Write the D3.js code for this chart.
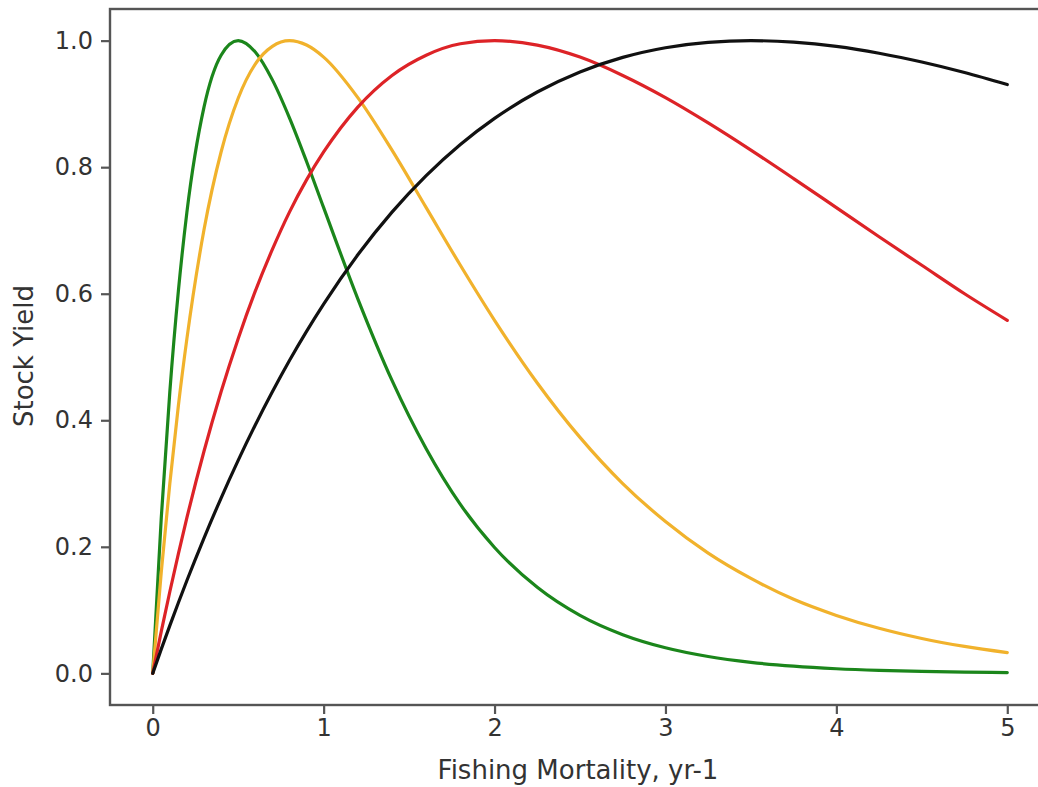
<!DOCTYPE html>
<html><head><meta charset="utf-8">
<script src="https://cdn.jsdelivr.net/npm/d3@7"></script>
<style>body{margin:0;background:#fff}svg{display:block}text{font-family:"DejaVu Sans",sans-serif;fill:#333}</style>
</head><body><svg id="c" width="1038" height="787"></svg>
<script>
const F = [0,0.05,0.1,0.15,0.2,0.3,0.4,0.5,0.6,0.7,0.8,0.9,1.0,1.2,1.4,1.6,1.8,2.0,2.25,2.5,2.75,3.0,3.25,3.5,3.75,4.0,4.25,4.5,4.75,5.0];
const green = [0,0.246,0.445,0.604,0.729,0.895,0.977,1.0,0.982,0.938,0.878,0.809,0.736,0.592,0.463,0.355,0.267,0.199,0.136,0.0916,0.0611,0.0404,0.0266,0.0174,0.0113,0.0073,0.0047,0.0030,0.0019,0.0012];
const orange = [0,0.160,0.300,0.423,0.529,0.701,0.824,0.909,0.963,0.991,1.0,0.993,0.974,0.910,0.827,0.736,0.645,0.558,0.459,0.373,0.300,0.240,0.190,0.150,0.117,0.0916,0.0712,0.0551,0.0426,0.0328];
const red = [0,0.0663,0.129,0.189,0.246,0.351,0.445,0.529,0.604,0.670,0.729,0.780,0.824,0.895,0.945,0.977,0.995,1.0,0.993,0.974,0.945,0.910,0.870,0.827,0.782,0.736,0.690,0.645,0.600,0.558];
const black = [0,0.0383,0.0755,0.1116,0.1467,0.2138,0.2771,0.3366,0.3926,0.445,0.4944,0.5405,0.5836,0.6615,0.729,0.7867,0.8359,0.8772,0.9188,0.9505,0.9735,0.9888,0.9974,1.0,0.9975,0.9908,0.9801,0.9662,0.9496,0.9306];
const xTicks = [0,1,2,3,4,5];
const yTicks = [0.0,0.2,0.4,0.6,0.8,1.0];
const series = [
  {name:"Fmax 0.5", values:green, color:"#1B861B"},
  {name:"Fmax 0.8", values:orange, color:"#F1B22C"},
  {name:"Fmax 2.0", values:red, color:"#DD2327"},
  {name:"Fmax 3.5", values:black, color:"#111111"}
];
const svg = d3.select("#c");
const L=110, R=1050, T=9, B=705;
const x = d3.scaleLinear().domain([-0.25,5.25]).range([L,R]);
const y = d3.scaleLinear().domain([-0.05,1.05]).range([B,T]);
const line = d3.line().x((d,i)=>x(F[i])).y(d=>y(d)).curve(d3.curveMonotoneX);
svg.append("g").selectAll("path").data(series).join("path")
  .attr("d",d=>line(d.values)).attr("fill","none").attr("stroke",d=>d.color)
  .attr("stroke-width",3.2).attr("stroke-linejoin","round").attr("stroke-linecap","round");
svg.append("rect").attr("x",L).attr("y",T).attr("width",R-L).attr("height",B-T)
  .attr("fill","none").attr("stroke","#555").attr("stroke-width",2.4);
const xa = svg.append("g").attr("transform",`translate(0,${B})`)
  .call(d3.axisBottom(x).tickValues(xTicks).tickFormat(d3.format("d")).tickSize(9).tickPadding(5));
const ya = svg.append("g").attr("transform",`translate(${L},0)`)
  .call(d3.axisLeft(y).tickValues(yTicks).tickFormat(d3.format(".1f")).tickSize(9).tickPadding(8));
[xa,ya].forEach(a=>{a.select(".domain").remove();a.selectAll("line").attr("stroke","#555").attr("stroke-width",2.2);
  a.selectAll("text").attr("font-size",24).attr("fill","#333").style("font-family","DejaVu Sans");});
svg.append("text").attr("x",578).attr("y",779).attr("text-anchor","middle").attr("font-size",26).text("Fishing Mortality, yr-1");
svg.append("text").attr("transform",`translate(33,356) rotate(-90)`).attr("text-anchor","middle").attr("font-size",26).text("Stock Yield");
</script></body></html>
